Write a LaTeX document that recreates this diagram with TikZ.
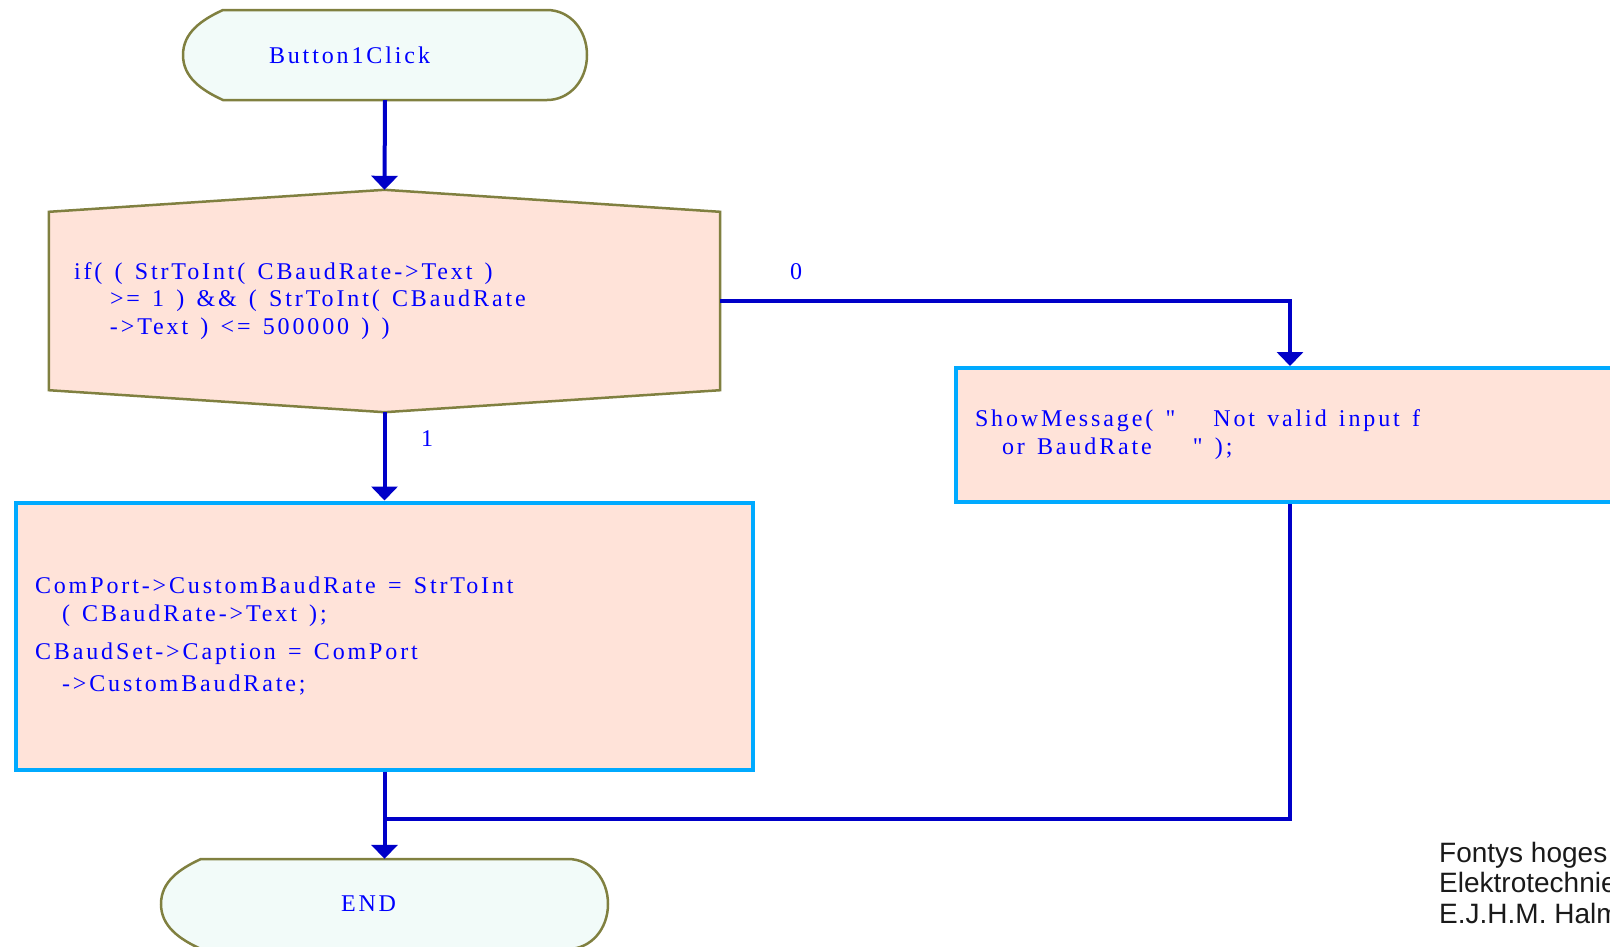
\documentclass[tikz,border=0pt]{standalone}
\usepackage{fontspec}
\setmainfont{Liberation Serif}
\newfontfamily\codefont{Liberation Serif}[LetterSpace=12]
\newfontfamily\notefont{Liberation Sans}
\usetikzlibrary{arrows.meta,calc,backgrounds}

\definecolor{flowline}{HTML}{0000C8}
\definecolor{codeblue}{HTML}{0000FF}
\definecolor{olive}{HTML}{808040}
\definecolor{stepcyan}{HTML}{00AAFF}
\definecolor{peach}{HTML}{FFE3D9}
\definecolor{mint}{HTML}{F2FBF9}
\definecolor{notegray}{HTML}{1A1A1A}

% rounded terminal outline around a node: #1 node name, #2 half width
\newcommand{\termshape}[2]{%
  \draw[termline, shift={(#1.center)}]
    (-#2+40,-45) -- (#2-40,-45)
    .. controls (#2-17,-45) and (#2,-25) .. (#2,0)
    .. controls (#2,25) and (#2-17,45) .. (#2-40,45)
    -- (-#2+40,45)
    .. controls (-#2+18,35) and (-#2,22) .. (-#2,0)
    .. controls (-#2,-22) and (-#2+18,-35) .. cycle;}

\begin{document}
\begin{tikzpicture}[x=1pt,y=-1pt,
  code/.style={font={\codefont\fontsize{24}{28}\selectfont}, text=codeblue, align=left,
    execute at begin node={\spaceskip=12.2pt plus 1pt minus 1pt\relax}},
  termbox/.style={code, minimum width=#1, minimum height=90, inner sep=0pt},
  termline/.style={draw=olive, line width=2.5pt, fill=mint},
  decbox/.style={code, minimum width=671, minimum height=222, inner sep=0pt, text width=621},
  decline/.style={draw=olive, line width=2.5pt, fill=peach},
  stepbox/.style={code, draw=stepcyan, line width=4pt, fill=peach, inner sep=0pt},
  flow/.style={draw=flowline, line width=4pt},
  flowarrow/.style={flow, -{Triangle[width=26pt,length=14pt]}},
  branch/.style={font={\fontsize{24}{28}\selectfont}, text=codeblue, inner sep=0pt},
  note/.style={font={\notefont\fontsize{28}{30.8}\selectfont}, text=notegray, align=left, inner sep=0pt}]

\useasboundingbox (0,0) rectangle (1610,946);
\clip (0,0) rectangle (1610,946);

% start terminal
\node[termbox=404, text width=232] (start) at (385,55) {Button1Click};

% decision
\node[decbox] (dec) at (384.5,301)
  {if( ( StrToInt( CBaudRate->Text )\\[-0.5pt]
   \hspace*{36pt}>= 1 ) \&\& ( StrToInt( CBaudRate\\[-0.5pt]
   \hspace*{36pt}->Text ) <= 500000 ) )};

% process steps
\node[stepbox, minimum width=737, minimum height=267, text width=699] (proc) at (384.5,636)
  {ComPort->CustomBaudRate = StrToInt\\
   \hspace*{27pt}( CBaudRate->Text );\\[10pt]
   CBaudSet->Caption = ComPort\\[4pt]
   \hspace*{27pt}->CustomBaudRate;};

\node[stepbox, minimum width=668, minimum height=134, text width=630] (msg) at (1290,435)
  {ShowMessage( "\hspace*{38pt}Not valid input f\\
   \hspace*{27pt}or BaudRate\hspace*{41pt}" );};

% end terminal
\node[termbox=447, text width=87] (end) at (384.5,904) {END};

% outlines behind the texts
\begin{scope}[on background layer]
  \termshape{start}{202}
  \termshape{end}{223.5}
  \draw[decline] (dec.north) -- ($(dec.north east)+(0,22)$) -- ($(dec.south east)+(0,-22)$)
    -- (dec.south) -- ($(dec.south west)+(0,-22)$) -- ($(dec.north west)+(0,22)$) -- cycle;
\end{scope}

% branch labels
\node[branch] (lbl0) at (796,272) {0};
\node[branch] (lbl1) at (427,439) {1};

% connectors
\coordinate (join) at (384.5,819);
\draw[flowarrow] (start.south) -- (dec.north);
\draw[flowarrow] (dec.south) -- (proc.north);
\draw[flowarrow] (dec.east) -| (msg.north);
\draw[flowarrow] (proc.south) -- (end.north);
\draw[flow] (msg.south) |- (join);

% footer
\node[note, anchor=north west] (footer) at (1439,841.5)
  {Fontys hoges\\Elektrotechnie\\E.J.H.M. Halm};
\end{tikzpicture}
\end{document}
